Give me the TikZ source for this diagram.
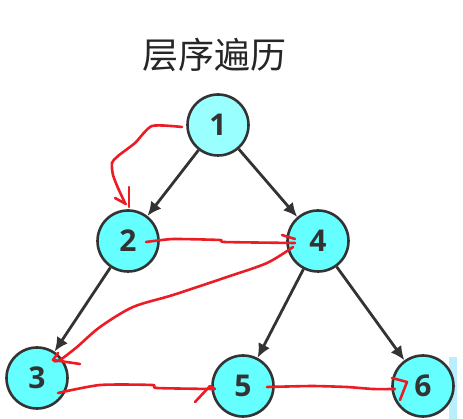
\documentclass[tikz,border=0pt]{standalone}
\usepackage{fontspec}
\usepackage{xcolor}
\setsansfont{Open Sans}
\newfontfamily\cjk{Noto Sans CJK SC}
\usetikzlibrary{arrows.meta}
\definecolor{nodecyan}{RGB}{102,255,255}
\definecolor{rootcyan}{RGB}{153,255,255}
\definecolor{inkgray}{RGB}{51,51,51}
\definecolor{penred}{RGB}{237,28,36}
\definecolor{paleblue}{RGB}{185,238,255}

\begin{document}
\begin{tikzpicture}[x=1pt,y=-1pt,
  treenode/.style={circle,draw=inkgray,line width=2.6pt,fill=nodecyan,
    minimum size=61pt,inner sep=0pt,text=inkgray,
    font=\sffamily\bfseries\fontsize{30}{30}\selectfont},
  treeedge/.style={draw=inkgray,line width=2.8pt,
    -{Latex[length=14pt,width=13pt]}},
  pen/.style={draw=penred,line width=2.6pt,line cap=round,line join=round}]
\useasboundingbox (0,0) rectangle (463,419);

\fill[paleblue] (449,357) rectangle (457,419);

\node (title) at (214,55) {\cjk\fontsize{36}{36}\selectfont\color{black!85}层序遍历};

\node[treenode,fill=rootcyan] (n1) at (218,125) {1};
\node[treenode] (n2) at (128,241) {2};
\node[treenode] (n4) at (318,241) {4};
\node[treenode] (n3) at (37,378) {3};
\node[treenode] (n5) at (243,386) {5};
\node[treenode] (n6) at (423,386) {6};

\draw[treeedge] (n1) -- (n2);
\draw[treeedge] (n1) -- (n4);
\draw[treeedge] (n2) -- (n3);
\draw[treeedge] (n4) -- (n5);
\draw[treeedge] (n4) -- (n6);

% red pen marks
\draw[pen] plot[smooth,tension=0.4] coordinates {(182,127) (152,126) (135,143) (118,156) (112,163) (113,175) (118,188) (125,203)};
\draw[pen] (129,187) -- (129,207);
\draw[pen] (115,198) -- (126,204);

\draw[pen] plot[smooth,tension=0.3] coordinates {(146,242) (173,239) (220,240) (224,242) (295,243)};
\draw[pen] (282,235) -- (295,239);

\draw[pen] plot[smooth,tension=0.5] coordinates {(293,247) (267,263) (227,277) (173,295) (133,307) (100,327) (77,347) (60,360) (54,361)};
\draw[pen] (58,353) -- (53,360) -- (80,364);

\draw[pen] plot[smooth,tension=0.4] coordinates {(58,393) (100,385) (152,385) (157,388) (214,389)};
\draw[pen] (195,402) -- (210,386) -- (215,389);

\draw[pen] plot[smooth,tension=0.3] coordinates {(267,387) (312,386) (347,387) (373,389) (395,389)};
\draw[pen] (392,378) -- (407,382) -- (400,400);
\end{tikzpicture}
\end{document}
